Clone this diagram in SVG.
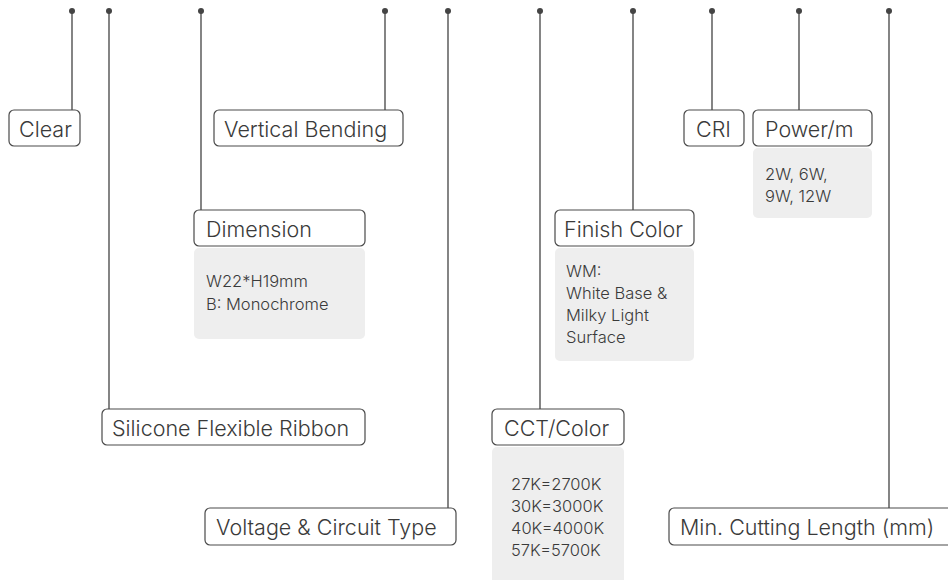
<svg xmlns="http://www.w3.org/2000/svg" width="948" height="580" viewBox="0 0 948 580">
<style>
.lbl{fill:#fff;stroke:#4a4a4a;stroke-width:1.2}
.lt{font-family:Inter,"Noto Sans",sans-serif;font-size:21.5px;font-weight:300;fill:#3a3a3a}
.gb{fill:#eeeeee}
.gt{font-family:Inter,"Noto Sans",sans-serif;font-size:16.5px;font-weight:300;fill:#3a3a3a}
.ln{stroke:#444;stroke-width:1.3;fill:none}
.dot{fill:#444}
</style>
<rect width="948" height="580" fill="#fff"/>
<g id="connectors">
<path class="ln" d="M72 11V110M109 11V409M201 11V210M385 11V110M448 11V508M540 11V409M633 11V210M712 11V110M799 11V110M889 11V508"/>
<circle class="dot" cx="72" cy="11" r="3"/><circle class="dot" cx="109" cy="11" r="3"/><circle class="dot" cx="201" cy="11" r="3"/><circle class="dot" cx="385" cy="11" r="3"/><circle class="dot" cx="448" cy="11" r="3"/><circle class="dot" cx="540" cy="11" r="3"/><circle class="dot" cx="633" cy="11" r="3"/><circle class="dot" cx="712" cy="11" r="3"/><circle class="dot" cx="799" cy="11" r="3"/><circle class="dot" cx="889" cy="11" r="3"/>
</g>
<g id="clear"><rect class="lbl" x="9" y="110" width="71" height="36" rx="5"/><text class="lt" x="19" y="136.5">Clear</text></g>
<g id="vertical-bending"><rect class="lbl" x="214" y="110" width="189" height="36" rx="5"/><text class="lt" x="224" y="136.5">Vertical Bending</text></g>
<g id="cri"><rect class="lbl" x="684" y="110" width="60" height="36" rx="5"/><text class="lt" x="696" y="136.5">CRI</text></g>
<g id="power"><rect class="lbl" x="753" y="110" width="119" height="36" rx="5"/><text class="lt" x="765" y="136.5">Power/m</text>
<rect class="gb" x="753" y="148" width="119" height="70" rx="5"/><text class="gt" x="765" y="180">2W, 6W,</text><text class="gt" x="765" y="202">9W, 12W</text></g>
<g id="dimension"><rect class="lbl" x="194" y="210" width="171" height="36" rx="5"/><text class="lt" x="206" y="236.5">Dimension</text>
<rect class="gb" x="194" y="248" width="171" height="91" rx="5"/><text class="gt" x="206" y="287">W22*H19mm</text><text class="gt" x="206" y="310">B: Monochrome</text></g>
<g id="finish-color"><rect class="lbl" x="555" y="210" width="139" height="36" rx="5"/><text class="lt" x="564" y="236.5">Finish Color</text>
<rect class="gb" x="555" y="248" width="139" height="113" rx="5"/><text class="gt" x="566" y="277">WM:</text><text class="gt" x="566" y="299">White Base &amp;</text><text class="gt" x="566" y="321">Milky Light</text><text class="gt" x="566" y="343">Surface</text></g>
<g id="silicone"><rect class="lbl" x="102" y="409" width="263" height="36" rx="5"/><text class="lt" x="112" y="435.5">Silicone Flexible Ribbon</text></g>
<g id="cct"><rect class="lbl" x="492" y="409" width="132" height="36" rx="5"/><text class="lt" x="504" y="435.5">CCT/Color</text>
<rect class="gb" x="492" y="447" width="132" height="140" rx="5"/><text class="gt" x="511" y="490">27K=2700K</text><text class="gt" x="511" y="512">30K=3000K</text><text class="gt" x="511" y="534">40K=4000K</text><text class="gt" x="511" y="556">57K=5700K</text></g>
<g id="voltage"><rect class="lbl" x="205" y="508" width="251" height="37" rx="5"/><text class="lt" x="216" y="535">Voltage &amp; Circuit Type</text></g>
<g id="min-cutting"><rect class="lbl" x="669" y="508" width="290" height="37" rx="5"/><text class="lt" x="680" y="535">Min. Cutting Length (mm)</text></g>
</svg>
